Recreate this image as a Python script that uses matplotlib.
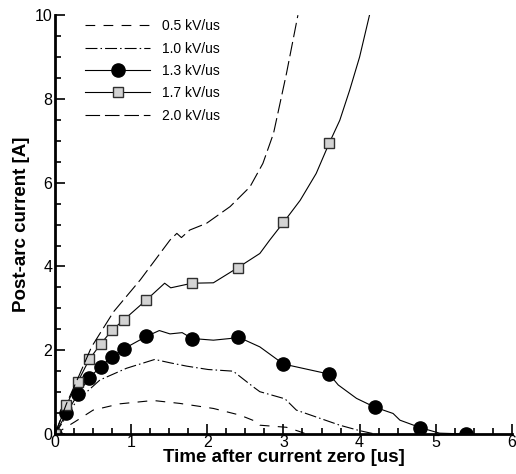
import matplotlib as mpl
mpl.use("Agg")
import matplotlib.pyplot as plt
from matplotlib.ticker import MultipleLocator

plt.rcParams["font.family"] = ["Liberation Sans", "DejaVu Sans"]
plt.rcParams["lines.scale_dashes"] = False

# 0.5 kV/us
t05 = [0, 0.26, 0.5, 0.85, 1.29, 1.64, 2.08, 2.43, 2.65, 2.69, 3.04, 3.21, 3.3]
i05 = [0, 0.29, 0.57, 0.72, 0.80, 0.73, 0.61, 0.45, 0.29, 0.21, 0.16, 0.06, 0]

# 1.0 kV/us
t10 = [0, 0.28, 0.59, 0.94, 1.31, 1.51, 1.73, 2.01, 2.34, 2.6, 2.69, 3.02, 3.17, 3.74, 4.0, 4.2]
i10 = [0, 0.78, 1.29, 1.57, 1.78, 1.70, 1.62, 1.54, 1.50, 1.13, 1.01, 0.84, 0.57, 0.21, 0.08, 0]

# 1.3 kV/us (circles at MARK13)
t13 = [0, 0.15, 0.3, 0.45, 0.6, 0.75, 0.9, 1.2, 1.37, 1.51, 1.67, 1.8, 2.08, 2.3, 2.4,
       2.69, 3.0, 3.6, 3.72, 3.96, 4.2, 4.44, 4.53, 4.8, 5.05, 5.4]
i13 = [0, 0.49, 0.95, 1.34, 1.61, 1.85, 2.03, 2.33, 2.47, 2.39, 2.42, 2.28, 2.24, 2.28, 2.32,
       2.08, 1.67, 1.43, 1.17, 0.85, 0.64, 0.49, 0.33, 0.15, 0.02, 0.0]
MARK13 = [0, 1, 2, 3, 4, 5, 6, 7, 11, 14, 16, 17, 20, 23, 25]

# 1.7 kV/us (squares at MARK17)
t17 = [0, 0.15, 0.3, 0.45, 0.6, 0.75, 0.9, 1.2, 1.44, 1.52, 1.8, 2.08, 2.4, 2.69, 2.82, 3.0,
       3.22, 3.43, 3.6, 3.74, 3.87, 4.0, 4.13]
i17 = [0, 0.69, 1.25, 1.78, 2.15, 2.48, 2.72, 3.20, 3.60, 3.49, 3.60, 3.61, 3.97, 4.31, 4.63, 5.05,
       5.58, 6.22, 6.94, 7.49, 8.21, 9.00, 10.0]
MARK17 = [0, 1, 2, 3, 4, 5, 6, 7, 10, 12, 15, 18]

# 2.0 kV/us
t20 = [0, 0.15, 0.31, 0.48, 0.77, 1.12, 1.51, 1.6, 1.66, 1.77, 1.99, 2.3, 2.56, 2.73, 2.87,
       3.04, 3.19]
i20 = [0, 0.72, 1.37, 2.08, 2.92, 3.68, 4.63, 4.79, 4.69, 4.87, 5.03, 5.43, 5.90, 6.46, 7.18,
       8.61, 10.0]

fig = plt.figure(figsize=(5.16, 4.74), dpi=100)
ax = fig.add_axes([0.1066, 0.0844, 0.8854, 0.8836])

lw = 0.8
ax.plot(t05, i05, color="black", lw=lw, dashes=(7, 6), label="0.5 kV/us")
ax.plot(t10, i10, color="black", lw=lw, dashes=(8.6, 2.2, 1.1, 2.2), label="1.0 kV/us")
ax.plot(t13, i13, color="black", lw=lw, marker="o", markersize=9.5, markevery=MARK13,
        markerfacecolor="black", markeredgecolor="black", label="1.3 kV/us")
ax.plot(t17, i17, color="black", lw=lw, marker="s", markersize=7.5, markevery=MARK17,
        markerfacecolor="#d3d3d3", markeredgecolor="#303030", markeredgewidth=1.0,
        label="1.7 kV/us")
ax.plot(t20, i20, color="black", lw=lw, dashes=(10.5, 3.5), label="2.0 kV/us")

ax.set_xlim(0, 6)
ax.set_ylim(0, 10)
ax.xaxis.set_major_locator(MultipleLocator(1))
ax.xaxis.set_minor_locator(MultipleLocator(0.25))
ax.yaxis.set_major_locator(MultipleLocator(2))
ax.yaxis.set_minor_locator(MultipleLocator(0.5))
ax.tick_params(which="both", direction="in", labelsize=11.5, width=1.2)
ax.tick_params(which="major", length=7)
ax.tick_params(which="minor", length=4)
ax.tick_params(axis="x", pad=1)
ax.tick_params(axis="y", pad=2)

for side in ("top", "right"):
    ax.spines[side].set_visible(False)
for side in ("left", "bottom"):
    ax.spines[side].set_linewidth(2.0)

ax.set_xlabel("Time after current zero [us]", fontsize=13.5, fontweight="bold", labelpad=-1)
ax.set_ylabel("Post-arc current [A]", fontsize=13.5, fontweight="bold", labelpad=3)

ax.legend(loc="upper left", bbox_to_anchor=(0.0385, 1.020), frameon=False, fontsize=10,
          handlelength=4.7, handletextpad=0.85, labelspacing=0.6)

fig.savefig("out.png", dpi=100, facecolor="white")
